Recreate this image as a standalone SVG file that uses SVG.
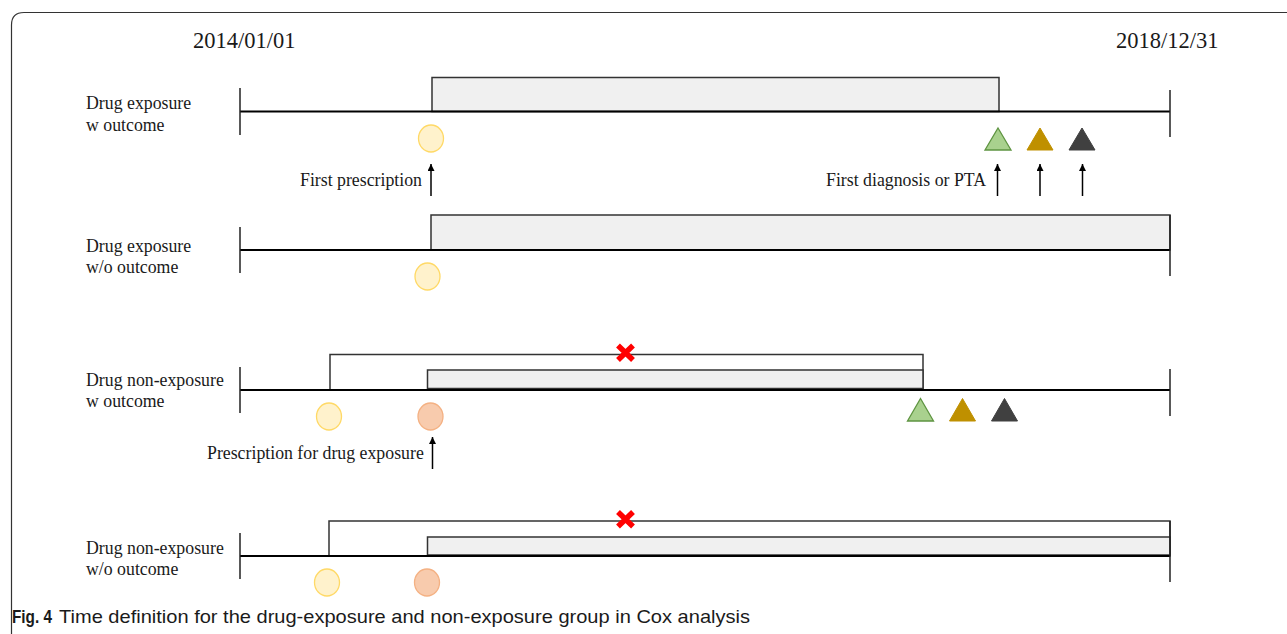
<svg xmlns="http://www.w3.org/2000/svg" width="1287" height="634" viewBox="0 0 1287 634">
<defs>
<marker id="ah" viewBox="0 0 10 10" refX="10" refY="5" markerWidth="8" markerHeight="7" orient="auto" markerUnits="userSpaceOnUse">
<path d="M0,0 L10,5 L0,10 Z" fill="#000"/>
</marker>
<style>
.t{font-family:"Liberation Serif","Times New Roman",serif;font-size:17.8px;fill:#1a1a1a}
.d{font-family:"Liberation Serif","Times New Roman",serif;font-size:22.5px;fill:#1a1a1a}
.axis{stroke:#000;stroke-width:2;fill:none}
.tick{stroke:#222;stroke-width:1.5;fill:none}
.bar{fill:#f0f0f0;stroke:#333;stroke-width:1.5}
.box{fill:#fff;stroke:#333;stroke-width:1.5}
.cy{fill:#fff2cc;stroke:#ffd966;stroke-width:1.3}
.co{fill:#f8cbad;stroke:#f4b183;stroke-width:1.3}
.tg{fill:#a9d18e;stroke:#5e9441;stroke-width:1.3}
.tgo{fill:#bf9000;stroke:#bf9000;stroke-width:1}
.tk{fill:#404040;stroke:#404040;stroke-width:1}
.arr{stroke:#000;stroke-width:1.5;fill:none;marker-end:url(#ah)}
.x{stroke:#ff0000;stroke-width:5.5;fill:none}
</style>
</defs>
<rect width="1287" height="634" fill="#fff"/>
<path d="M11.5 634 V25 Q11.5 12.5 24 12.5 H1287" fill="none" stroke="#333" stroke-width="1.2"/>
<text class="d" x="193" y="48">2014/01/01</text>
<text class="d" x="1116" y="48">2018/12/31</text>

<g id="row1">
<text class="t" x="86" y="109">Drug exposure</text>
<text class="t" x="86" y="131">w outcome</text>
<rect class="bar" x="432" y="77.5" width="567" height="34"/>
<line class="axis" x1="240" y1="111.5" x2="1170" y2="111.5"/>
<line class="tick" x1="240" y1="88" x2="240" y2="135"/>
<line class="tick" x1="1170" y1="90" x2="1170" y2="137"/>
<ellipse class="cy" cx="431" cy="138.5" rx="12.5" ry="13.5"/>
<polygon class="tg" points="998,128 1011,150 985,150"/>
<polygon class="tgo" points="1040,128 1053,150 1027,150"/>
<polygon class="tk" points="1082,128 1095,150 1069,150"/>
</g>

<g id="row2">
<text class="t" x="86" y="251.5">Drug exposure</text>
<text class="t" x="86" y="272.5">w/o outcome</text>
<rect class="bar" x="431" y="215" width="739" height="35"/>
<line class="axis" x1="240" y1="250" x2="1170" y2="250"/>
<line class="tick" x1="240" y1="227" x2="240" y2="273"/>
<line class="tick" x1="1170" y1="215" x2="1170" y2="276"/>
<ellipse class="cy" cx="427.5" cy="276.5" rx="12.5" ry="13.5"/>
</g>

<g id="row3">
<text class="t" x="86" y="386">Drug non-exposure</text>
<text class="t" x="86" y="406.5">w outcome</text>
<rect class="box" x="330" y="354.5" width="593" height="35.5"/>
<rect class="bar" x="427.5" y="370" width="495.5" height="18.5"/>
<line class="axis" x1="240" y1="390" x2="1170" y2="390"/>
<line class="tick" x1="240" y1="367" x2="240" y2="413"/>
<line class="tick" x1="1170" y1="369" x2="1170" y2="416"/>
<path class="x" d="M618 345.5 L633 360 M633 345.5 L618 360"/>
<ellipse class="cy" cx="329" cy="416.5" rx="12.5" ry="13.5"/>
<ellipse class="co" cx="430.5" cy="416.5" rx="12.5" ry="13.5"/>
<polygon class="tg" points="920.5,398.5 933.5,421 907.5,421"/>
<polygon class="tgo" points="962.5,398.5 975.5,421 949.5,421"/>
<polygon class="tk" points="1004.5,398.5 1017.5,421 991.5,421"/>
</g>

<g id="row4">
<text class="t" x="86" y="553.5">Drug non-exposure</text>
<text class="t" x="86" y="574.5">w/o outcome</text>
<rect class="box" x="329" y="521" width="841" height="35"/>
<rect class="bar" x="427.5" y="537" width="742.5" height="18"/>
<line class="axis" x1="240" y1="556" x2="1170" y2="556"/>
<line class="tick" x1="240" y1="533" x2="240" y2="579"/>
<line class="tick" x1="1170" y1="521" x2="1170" y2="582"/>
<path class="x" d="M618 512 L633 526.5 M633 512 L618 526.5"/>
<ellipse class="cy" cx="327" cy="582.5" rx="12.5" ry="13.5"/>
<ellipse class="co" cx="427" cy="582.5" rx="12.5" ry="13.5"/>
</g>

<g id="connectors">
<line class="arr" x1="431" y1="196" x2="431" y2="164"/>
<line class="arr" x1="997.5" y1="196" x2="997.5" y2="164"/>
<line class="arr" x1="1040" y1="196" x2="1040" y2="164"/>
<line class="arr" x1="1082.5" y1="196" x2="1082.5" y2="164"/>
<line class="arr" x1="432.5" y1="469" x2="432.5" y2="437"/>
</g>
<text class="t" x="300" y="186">First prescription</text>
<text class="t" x="826" y="186">First diagnosis or PTA</text>
<text class="t" x="207" y="459">Prescription for drug exposure</text>

<text x="12" y="623" font-family="'Liberation Sans',Arial,sans-serif" font-size="18.5" fill="#1a1a1a"><tspan font-weight="bold" textLength="40" lengthAdjust="spacingAndGlyphs">Fig. 4</tspan><tspan x="59" textLength="691" lengthAdjust="spacingAndGlyphs">Time definition for the drug-exposure and non-exposure group in Cox analysis</tspan></text>
</svg>
